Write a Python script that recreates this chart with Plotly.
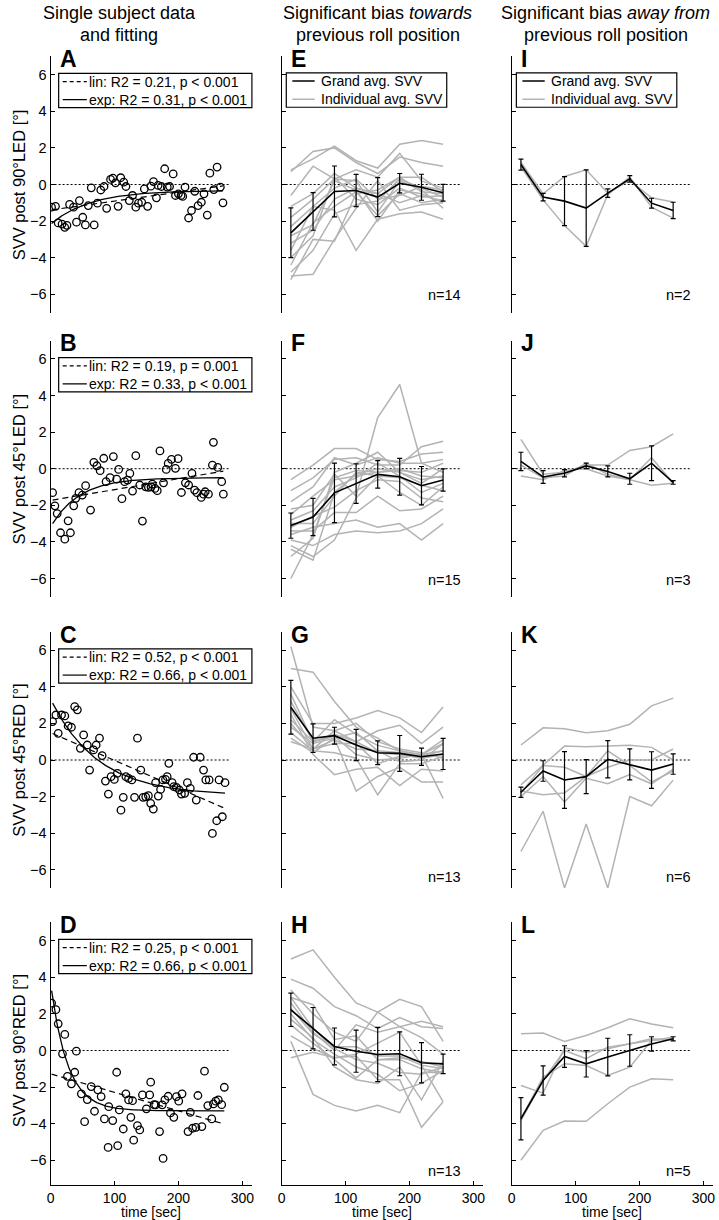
import numpy as np
import plotly.graph_objects as go

W, H = 719, 1220

# ---------------- data ----------------
A_t = [1.5, 7.7, 11.8, 17.9, 22.1, 25.6, 29.7, 35.9, 40.5, 45.1, 50.3, 54.4, 59.0, 63.6, 68.2, 73.3, 78.5, 83.6, 87.7, 93.8,
       97.4, 101.5, 105.6, 109.7, 114.4, 117.9, 123.1, 128.2, 133.3, 137.4, 142.6, 146.7, 151.8, 156.9, 161.0, 165.6, 168.2,
       173.3, 178.5, 182.6, 186.2, 191.8, 195.4, 200.0, 204.1, 206.7, 210.3, 215.9, 220.5, 225.6, 230.8, 235.9, 240.0, 245.1,
       249.2, 255.4, 260.5, 265.6, 269.7]
A_y = [-1.24, -1.19, -2.10, -2.16, -2.34, -2.23, -1.09, -1.24, -2.06, -0.88, -1.79, -2.21, -1.15, -0.18, -2.21, -1.02, -0.30,
       -0.11, -1.30, 0.28, 0.35, 0.09, -1.19, 0.37, 0.13, -0.11, -0.88, -0.60, -1.24, -1.02, -0.97, -0.24, -1.19, -0.09, 0.16,
       -0.73, -0.05, -0.11, 0.86, -0.14, -0.11, 0.58, -0.60, -0.51, -0.60, -0.65, -0.14, -1.83, -1.42, -0.37, -1.15, -0.97,
       -0.51, -1.67, 0.62, -0.28, 0.95, -0.14, -1.00]

B_t = [3.1, 6.7, 10.3, 15.5, 22.2, 27.4, 31.0, 36.2, 39.3, 44.4, 49.6, 54.8, 62.5, 67.7, 72.4, 77.5, 83.2, 86.8, 93.0, 98.2,
       103.4, 106.5, 111.6, 115.8, 120.4, 124.0, 128.2, 133.3, 139.5, 143.7, 148.8, 153.0, 157.1, 159.2, 163.3, 166.9, 171.1,
       176.7, 180.9, 184.0, 189.1, 195.3, 199.5, 204.7, 210.9, 216.0, 221.2, 225.3, 228.9, 235.7, 239.3, 241.9, 247.0, 253.2,
       254.8, 261.5, 267.7, 270.3]
B_y = [-1.31, -2.03, -2.45, -3.50, -3.85, -2.85, -3.50, -2.03, -1.62, -1.31, -1.44, -0.93, -2.26, 0.35, 0.16, -0.11, 0.57,
       -0.71, -0.49, 0.66, -0.57, -0.04, -1.64, -0.71, -0.62, -0.26, -1.22, 0.71, -0.89, -2.86, -0.99, -1.02, -0.99, -0.84,
       -1.08, -1.20, 0.97, -0.77, -0.04, 0.29, 0.51, 0.02, 0.55, -1.30, -0.77, -0.89, -0.26, -1.17, -1.31, -1.57, -1.39,
       -1.26, -1.39, 0.20, 1.44, 0.07, -0.71, -1.39]

C_t = [3.1, 8.3, 11.9, 17.1, 22.2, 27.4, 32.6, 37.7, 41.9, 46.5, 51.7, 57.4, 61.0, 67.2, 71.3, 76.5, 80.6, 85.8, 90.4, 94.6,
       99.7, 104.4, 110.1, 113.7, 117.8, 122.0, 127.1, 131.3, 135.9, 141.1, 144.7, 148.8, 153.0, 156.6, 160.7, 164.3, 168.5,
       172.1, 175.7, 179.8, 182.4, 185.0, 190.2, 192.8, 196.9, 201.6, 204.7, 209.8, 214.0, 218.6, 223.8, 227.9, 234.1, 239.3,
       242.9, 248.1, 253.2, 259.9, 263.6, 268.7, 272.9]
C_y = [2.10, 2.46, 1.46, 2.46, 2.41, 1.86, 1.79, 2.92, 2.74, 0.64, 1.37, 0.82, -0.55, 0.55, 0.82, 1.19, 0.24, -1.15, -1.86,
       -0.91, -1.06, -0.73, -2.74, -2.04, -0.91, -1.00, -1.09, -2.04, 1.19, -0.55, -2.04, -2.01, -1.95, -2.37, -2.68, -1.24,
       -1.97, -1.61, -1.09, -1.06, -0.91, -0.18, -1.24, -1.46, -1.50, -1.64, -1.86, -1.82, -1.24, -1.55, 0.15, -2.19, 0.15,
       -0.55, -1.09, -1.09, -4.01, -3.32, -1.09, -3.10, -1.24]

D_t = [1.6, 8.3, 11.9, 22.2, 18.6, 26.4, 32.6, 37.7, 40.3, 48.1, 53.2, 57.4, 63.6, 68.7, 73.9, 79.1, 84.2, 91.0, 97.2, 103.4,
       107.5, 113.7, 117.8, 122.0, 125.6, 128.2, 135.9, 139.5, 143.7, 149.9, 155.0, 156.6, 161.8, 164.3, 170.5, 174.7, 178.8,
       184.0, 187.6, 192.8, 196.9, 200.5, 205.7, 215.0, 218.6, 222.2, 227.4, 230.5, 236.7, 240.8, 246.0, 252.2, 254.8, 258.4,
       262.5, 267.7, 271.8, 90.0, 105.0, 130.0, 176.0]
D_y = [2.59, 2.23, 1.46, 0.88, -0.18, -1.41, -1.82, -1.19, -0.04, -2.37, -3.89, -2.68, -1.97, -3.32, -2.15, -2.52, -3.74,
       -3.07, -3.83, -1.19, -3.25, -4.29, -2.37, -2.70, -3.65, -2.74, -4.11, -4.34, -2.43, -3.19, -2.43, -1.73, -2.96, -2.97,
       -4.43, -2.97, -2.70, -2.50, -3.41, -3.65, -2.52, -2.77, -2.37, -4.43, -3.38, -4.25, -4.20, -2.46, -4.16, -1.13, -3.01,
       -3.74, -2.92, -2.77, -2.70, -2.96, -2.01, -5.3, -5.2, -4.9, -5.9]

bin_t = [14.4, 49.1, 82.6, 116.5, 150.3, 184.7, 218.8, 252.6]
zero_t = [0, 280]

E_mean = [-2.64, -1.47, -0.38, -0.33, -0.69, 0.07, -0.15, -0.45]
E_err = [1.36, 1.03, 1.39, 0.88, 1.07, 0.53, 0.71, 0.46]
E_ind = [[0.8, 1.4, 2.1, 1.3, 0.9, 2.2, 2.4, 2.2],
         [0.7, 1.8, 2.0, 1.2, 0.6, 1.5, 1.2, 1.0],
         [-0.6, 1.0, 0.3, 0.8, 0.4, 1.7, 0.2, -0.2],
         [-1.2, -0.5, 0.6, -0.2, -0.5, 0.4, 0.4, -0.4],
         [-1.8, -0.8, 0.3, 0.2, -1.5, 0.2, -0.3, -1.3],
         [-2.3, -1.2, -0.2, 0.3, -0.8, -0.6, -0.1, -0.3],
         [-2.8, -2.2, 0.2, -0.3, -2.0, -0.3, -0.5, -1.0],
         [-3.2, -2.5, -0.8, -0.2, -0.5, -1.0, -0.6, -0.9],
         [-3.6, -1.2, -1.4, -3.6, -1.9, -1.6, -1.5, -1.9],
         [-4.0, -2.8, 0.4, -0.8, -1.1, -0.2, -0.7, -0.6],
         [-4.4, -2.1, -1.2, -0.4, -1.7, -0.5, -1.0, -0.8],
         [-4.8, -3.6, -1.6, -1.1, -0.9, 0.3, -0.2, -0.7],
         [-5.0, -4.9, -3.0, -1.3, 0.2, -1.4, -1.1, -1.0],
         [-5.2, -3.0, -3.1, -0.5, -0.3, 0.4, -0.4, -0.5]]

F_mean = [-3.11, -2.64, -1.32, -0.81, -0.31, -0.44, -0.93, -0.62]
F_err = [0.69, 1.02, 1.63, 1.08, 0.75, 1.00, 1.05, 0.61]
F_ind = [[-0.6, 0.2, 1.1, 1.1, 0.5, 0.4, 0.8, 0.9],
         [-1.2, -0.5, 0.5, 0.6, 0.2, 0.2, 1.2, 1.5],
         [-1.8, -1.0, 0.6, 0.2, 0.6, 0.3, 0.3, 0.5],
         [-2.2, -2.0, -0.3, -1.5, 2.8, 4.6, 0.3, -0.2],
         [-2.5, -1.5, -0.6, -0.4, -0.2, -0.1, -0.2, 0.3],
         [-2.8, -2.3, -1.0, -0.5, 0.3, -0.4, -1.3, -0.8],
         [-3.0, -3.0, -1.5, -0.2, -0.4, -1.3, -2.0, -1.0],
         [-3.2, -2.6, -2.1, -1.2, -0.6, -0.7, -1.6, -1.8],
         [-3.4, -3.4, -2.4, -2.4, -1.5, -2.3, -2.2, -1.5],
         [-3.6, -3.2, -3.0, -2.8, -3.2, -3.0, -3.9, -3.0],
         [-3.9, -4.2, -3.6, -3.4, -3.5, -3.4, -3.0, -2.2],
         [-4.2, -4.8, -3.9, -1.6, -0.4, -0.5, -0.9, -1.2],
         [-4.4, -5.0, -1.3, -0.3, 0.0, -0.2, -0.6, -0.4],
         [-4.8, -3.8, -0.2, 0.3, 0.9, -0.2, -0.8, 0.0],
         [-6.0, -3.6, -0.5, -0.1, -0.2, 0.0, -0.4, -0.5]]

G_mean = [2.88, 1.19, 1.33, 0.82, 0.40, 0.36, 0.18, 0.33]
G_err = [1.47, 0.78, 0.46, 0.85, 0.65, 0.98, 0.47, 0.85]
G_ind = [[6.2, 1.8, 1.6, 1.0, 0.4, 0.3, 0.1, 0.3],
         [5.0, 4.8, 3.2, 1.8, 1.2, 0.5, 0.3, 0.9],
         [4.0, 2.0, 2.0, 2.3, 2.7, 2.3, 1.5, 2.9],
         [3.6, 1.0, 1.4, 1.0, 1.6, 1.9, 0.9, 1.8],
         [3.2, 1.0, 2.2, 1.4, 0.8, 0.5, 0.2, 0.5],
         [2.8, 0.6, 1.6, 2.0, 1.0, 0.6, 0.4, 0.1],
         [2.5, 0.3, -0.8, -0.5, -0.4, -1.4, -0.5, -0.6],
         [2.2, 1.0, 1.3, 0.3, 0.0, 0.1, 0.3, 0.5],
         [2.0, 0.6, 0.9, 0.9, -0.2, 0.2, 0.3, -2.1],
         [1.8, 0.9, 1.2, -1.7, -0.9, -0.4, -1.2, -1.2],
         [1.5, 0.5, 0.4, 0.1, -1.9, -0.2, -0.2, 0.2],
         [1.2, 0.4, 1.2, 1.5, 0.5, -0.1, 0.0, 0.9],
         [1.0, 0.6, 1.1, 0.6, 0.5, 0.4, 0.3, 1.1]]

H_mean = [2.22, 1.22, 0.22, -0.04, -0.22, -0.18, -0.67, -0.73]
H_err = [0.91, 1.13, 1.01, 1.15, 1.48, 1.20, 1.10, 0.53]
H_ind = [[5.0, 5.5, 4.0, 2.6, 2.1, 1.3, 0.7, -0.2],
         [3.9, 3.4, 2.4, 1.9, 1.2, 1.8, 1.3, 1.2],
         [3.3, 2.0, 1.0, 0.5, 2.1, 2.8, 2.4, 0.5],
         [2.9, 2.5, 0.6, 0.8, -0.5, -0.4, -0.6, -0.9],
         [2.6, 1.0, 0.0, 1.4, 1.0, 1.3, 1.6, 1.3],
         [2.9, 1.2, 0.1, -0.5, -0.7, -1.2, -1.3, -0.9],
         [2.0, 0.6, -0.2, -0.9, -1.3, -2.2, -1.8, -1.1],
         [2.3, 0.9, 0.2, 0.2, -0.3, -0.3, -0.8, -1.0],
         [1.4, 0.4, -0.5, -1.5, -0.5, -0.5, -1.0, -1.2],
         [1.7, 0.7, -0.9, -1.6, -1.8, -0.9, -2.7, -0.6],
         [0.8, 0.1, -0.4, -0.3, -1.6, -1.6, -4.2, -2.8],
         [0.5, -2.4, -3.0, -3.3, -3.0, -3.4, -1.2, -1.2],
         [-0.4, -0.1, -0.4, -0.2, 0.4, 1.0, -0.8, -2.8]]

I_mean = [1.09, -0.69, -0.91, -1.29, -0.47, 0.31, -1.02, -1.42]
I_err = [0.30, 0.20, 1.34, 2.09, 0.23, 0.18, 0.27, 0.45]
I_ind = [[0.98, -0.84, -2.24, -3.38, -0.55, 0.40, -1.24, -1.84],
         [1.22, -0.51, 0.44, 0.80, -0.47, 0.22, -0.73, -0.96]]

J_mean = [0.40, -0.45, -0.25, 0.15, -0.15, -0.55, 0.30, -0.75]
J_err = [0.50, 0.35, 0.20, 0.15, 0.30, 0.30, 0.95, 0.10]
J_ind = [[1.6, -0.3, -0.2, 0.2, 0.2, 1.0, 1.2, 1.9],
         [0.2, -0.5, -0.4, 0.3, -0.3, -0.6, 0.6, -0.8],
         [-0.4, -0.6, -0.1, 0.0, -0.4, -0.6, -0.9, -0.8]]

K_mean = [-1.76, -0.60, -1.09, -0.91, 0.04, -0.24, -0.55, -0.22]
K_err = [0.28, 0.56, 1.55, 0.93, 1.02, 0.85, 1.00, 0.56]
K_ind = [[0.82, 1.76, 1.71, 1.49, 1.60, 1.95, 2.96, 3.38],
         [-1.36, -0.27, 0.76, 0.73, 0.76, 0.80, 0.69, 0.00],
         [-1.80, -0.30, -0.40, -0.90, 0.50, -0.30, -1.20, -0.60],
         [-1.70, -1.90, -1.80, -0.90, -0.40, 0.00, 0.00, 0.60],
         [-5.00, -2.80, -7.00, -3.50, -7.00, -2.00, -2.50, -1.10],
         [-2.00, -0.90, -2.30, -1.00, -1.30, -0.80, -1.30, -0.50]]

L_mean = [-3.73, -1.64, -0.33, -0.73, -0.36, 0.00, 0.36, 0.64]
L_err = [1.15, 0.80, 0.59, 0.72, 1.03, 0.86, 0.39, 0.11]
L_ind = [[0.91, 0.95, 0.49, 0.82, 1.24, 1.73, 1.45, 1.24],
         [-1.91, -2.33, 0.15, -0.09, 0.09, 0.36, 0.64, 0.58],
         [-3.73, -1.45, -0.73, -0.82, -1.36, -0.91, 0.55, 0.64],
         [-3.82, -1.64, 0.0, -0.45, 0.18, 0.36, 0.58, 0.73],
         [-6.0, -4.36, -3.85, -3.87, -2.91, -2.00, -1.55, -1.60]]

scatter_sets = [(A_t, A_y), (B_t, B_y), (C_t, C_y), (D_t, D_y)]
fit_labels = [("lin: R2 = 0.21, p < 0.001", "exp: R2 = 0.31, p < 0.001"),
              ("lin: R2 = 0.19, p = 0.001", "exp: R2 = 0.33, p < 0.001"),
              ("lin: R2 = 0.52, p < 0.001", "exp: R2 = 0.66, p < 0.001"),
              ("lin: R2 = 0.25, p < 0.001", "exp: R2 = 0.66, p < 0.001")]
avg_sets = [(E_mean, E_err, E_ind), (F_mean, F_err, F_ind), (G_mean, G_err, G_ind), (H_mean, H_err, H_ind),
            (I_mean, I_err, I_ind), (J_mean, J_err, J_ind), (K_mean, K_err, K_ind), (L_mean, L_err, L_ind)]
n_labels = ["n=14", "n=15", "n=13", "n=13", "n=2", "n=3", "n=6", "n=5"]
panel_letters = list("ABCDEFGHIJKL")
ylabels = ["SVV post 90°LED [°]", "SVV post 45°LED [°]", "SVV post 45°RED [°]", "SVV post 90°RED [°]"]
col_titles = [("Single subject data", "and fitting"),
              ("Significant bias <i>towards</i>", "previous roll position"),
              ("Significant bias <i>away from</i>", "previous roll position")]
legend_avg = ["Grand avg. SVV", "Individual avg. SVV"]
xtitle = "time [sec]"
yticks = [-6, -4, -2, 0, 2, 4, 6]
xticks = [0, 100, 200, 300]

# ---------------- layout geometry (pixels) ----------------
col_px = [(47, 250), (280, 483), (512, 715)]
row_px = [(56.4, 312.6), (340.6, 596.8), (631.9, 888.1), (922.4, 1184.8)]
row_ymin = [-7, -7, -7, -7.34]
n_label_y = [-6.05, -6.1, -6.4, -6.6]
title_x = [116, 377, 607]
FONT = "Liberation Sans, Arial, sans-serif"
GRAY = "#b3b3b3"
FS = 14.5

fig = go.Figure()
layout = dict(width=W, height=H, margin=dict(l=0, r=0, t=0, b=0), plot_bgcolor="white",
              paper_bgcolor="white", showlegend=False, font=dict(family=FONT, size=FS, color="black"))
shapes, annotations = [], []


def names(k):
    s = "" if k == 1 else str(k)
    return "xaxis" + s, "yaxis" + s, "x" + s, "y" + s


def exp_fit(t, y):
    t = np.asarray(t, float)
    y = np.asarray(y, float)
    best = None
    for tau in np.linspace(3, 800, 3000):
        X = np.column_stack([np.ones_like(t), np.exp(-t / tau)])
        coef, *_ = np.linalg.lstsq(X, y, rcond=None)
        r = np.sum((X @ coef - y) ** 2)
        if best is None or r < best[0]:
            best = (r, tau, coef)
    return best[1], best[2]


for k in range(1, 13):
    col = (k - 1) // 4
    row = (k - 1) % 4
    xa, ya, xr, yr = names(k)
    x0, x1 = col_px[col]
    y0, y1 = row_px[row]
    bottom = row == 3
    layout[xa] = dict(domain=[x0 / W, x1 / W], range=[0, 315], anchor=yr, showgrid=False, zeroline=False,
                      showline=bottom, linecolor="black", linewidth=1.2, ticks="inside" if bottom else "",
                      ticklen=4, tickcolor="black", tickwidth=1.2, showticklabels=bottom, tickvals=xticks,
                      tickfont=dict(size=14), fixedrange=True)
    layout[ya] = dict(domain=[1 - y1 / H, 1 - y0 / H], range=[row_ymin[row], 7], anchor=xr, showgrid=False,
                      zeroline=False, showline=True, linecolor="black", linewidth=1.2, ticks="inside", ticklen=4,
                      tickcolor="black", tickwidth=1.2, tickvals=yticks, showticklabels=(col == 0),
                      tickfont=dict(size=FS), fixedrange=True)

    dref = xr + " domain"
    if bottom:
        annotations.append(dict(xref=dref, yref="paper", x=0.5, y=1 - 1211.5 / H, text=xtitle,
                                showarrow=False, xanchor="center", yanchor="middle", font=dict(size=14)))
    # zero dashed line
    fig.add_trace(go.Scatter(x=zero_t, y=[0, 0], mode="lines", xaxis=xr, yaxis=yr,
                             line=dict(color="black", width=1, dash="2px,2px"), hoverinfo="skip"))

    if col == 0:
        t, y = scatter_sets[row]
        fig.add_trace(go.Scatter(x=t, y=y, mode="markers", xaxis=xr, yaxis=yr,
                                 marker=dict(symbol="circle-open", size=7.5, color="black", line=dict(width=1.3))))
        tt = np.linspace(min(t), max(t), 200)
        p = np.polyfit(t, y, 1)
        fig.add_trace(go.Scatter(x=tt, y=np.polyval(p, tt), mode="lines", xaxis=xr, yaxis=yr,
                                 line=dict(color="black", width=1.2, dash="6px,4px")))
        tau, c = exp_fit(t, y)
        fig.add_trace(go.Scatter(x=tt, y=c[0] + c[1] * np.exp(-tt / tau), mode="lines", xaxis=xr, yaxis=yr,
                                 line=dict(color="black", width=1.3)))
        # legend box
        shapes.append(dict(type="rect", xref=dref, yref=yr, x0=0.04, x1=1.0, y0=4.2, y1=6.07,
                           line=dict(color="black", width=1.2), fillcolor="white", layer="above"))
        shapes.append(dict(type="line", xref=dref, yref=yr, x0=0.06, x1=0.18, y0=5.62, y1=5.62,
                           line=dict(color="black", width=1.2, dash="4px,3px")))
        shapes.append(dict(type="line", xref=dref, yref=yr, x0=0.06, x1=0.18, y0=4.64, y1=4.64,
                           line=dict(color="black", width=1.2)))
        annotations.append(dict(xref=dref, yref=yr, x=0.183, y=5.13,
                                text="<br>".join(fit_labels[row]), showarrow=False, align="left",
                                xanchor="left", yanchor="middle", font=dict(size=14)))
        annotations.append(dict(xref="paper", yref="paper",
                                x=15 / W, y=1 - (row_px[row][0] + 128.1) / H, text=ylabels[row], textangle=-90,
                                showarrow=False, xanchor="center", yanchor="middle", font=dict(size=16.5)))
    else:
        idx = (col - 1) * 4 + row
        m, e, ind = avg_sets[idx]
        for line in ind:
            fig.add_trace(go.Scatter(x=bin_t, y=line, mode="lines", xaxis=xr, yaxis=yr,
                                     line=dict(color=GRAY, width=1.5), hoverinfo="skip"))
        fig.add_trace(go.Scatter(x=bin_t, y=m, mode="lines", xaxis=xr, yaxis=yr,
                                 line=dict(color="black", width=1.6),
                                 error_y=dict(type="data", array=e, visible=True, color="black",
                                              thickness=1.2, width=2.5)))
        annotations.append(dict(xref=dref, yref=yr, x=0.9, y=n_label_y[row], text=n_labels[idx],
                                showarrow=False, xanchor="right", yanchor="middle", font=dict(size=FS)))
        if row == 0:
            shapes.append(dict(type="rect", xref=dref, yref=yr, x0=0.023, x1=0.82, y0=4.22, y1=6.1,
                               line=dict(color="black", width=1.2), fillcolor="white", layer="above"))
            shapes.append(dict(type="line", xref=dref, yref=yr, x0=0.053, x1=0.164, y0=5.66, y1=5.66,
                               line=dict(color="black", width=1.5)))
            shapes.append(dict(type="line", xref=dref, yref=yr, x0=0.053, x1=0.164, y0=4.66, y1=4.66,
                               line=dict(color=GRAY, width=1.5)))
            annotations.append(dict(xref=dref, yref=yr, x=0.187, y=5.16, text="<br>".join(legend_avg),
                                    showarrow=False, align="left", xanchor="left", yanchor="middle",
                                    font=dict(size=14)))

    annotations.append(dict(xref=dref, yref=yr, x=0.035, y=6.85, text="<b>%s</b>" % panel_letters[k - 1],
                            showarrow=False, xanchor="left", yanchor="middle", font=dict(size=23)))

for c in range(3):
    for line, py in zip(col_titles[c], [13.5, 35]):
        annotations.append(dict(xref="paper", yref="paper", x=title_x[c] / W, y=1 - py / H, text=line,
                                showarrow=False, xanchor="center", yanchor="middle", font=dict(size=18)))

layout["shapes"] = shapes
layout["annotations"] = annotations
fig.update_layout(**layout)
fig.write_html("out.html", config={"displayModeBar": False},
               post_script="document.body.style.margin='0';")
